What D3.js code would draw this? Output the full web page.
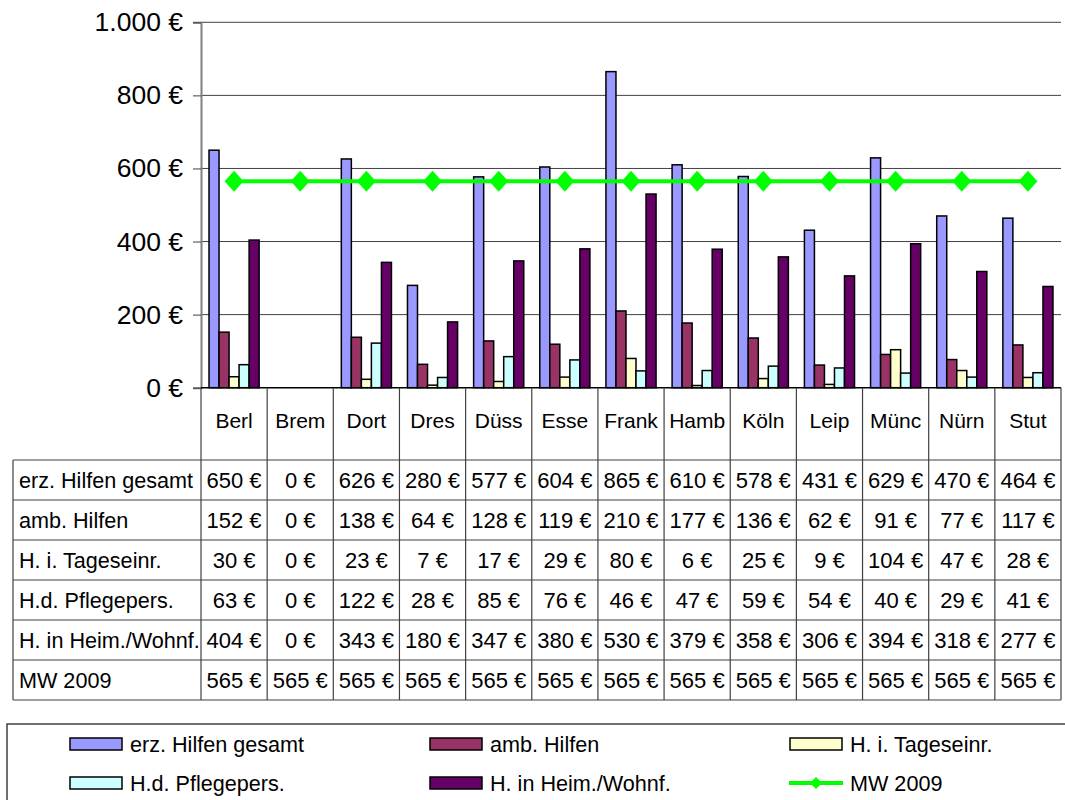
<!DOCTYPE html>
<html>
<head>
<meta charset="utf-8">
<script src="https://cdn.jsdelivr.net/npm/d3@7"></script>
<style>
  html, body { margin: 0; padding: 0; background: #fff; }
  svg { display: block; font-family: "Liberation Sans", Arial, sans-serif; }
</style>
</head>
<body>
<svg id="chart" width="1065" height="800"></svg>
<script>
const categories = ["Berl","Brem","Dort","Dres","Düss","Esse","Frank","Hamb","Köln","Leip","Münc","Nürn","Stut"];
const seriesNames = ["erz. Hilfen gesamt","amb. Hilfen","H. i. Tageseinr.","H.d. Pflegepers.","H. in Heim./Wohnf.","MW 2009"];
const erzHilfen   = [650, 0, 626, 280, 577, 604, 865, 610, 578, 431, 629, 470, 464];
const ambHilfen   = [152, 0, 138, 64, 128, 119, 210, 177, 136, 62, 91, 77, 117];
const tageseinr   = [30, 0, 23, 7, 17, 29, 80, 6, 25, 9, 104, 47, 28];
const pflegepers  = [63, 0, 122, 28, 85, 76, 46, 47, 59, 54, 40, 29, 41];
const heimWohnf   = [404, 0, 343, 180, 347, 380, 530, 379, 358, 306, 394, 318, 277];
const mw2009      = [565, 565, 565, 565, 565, 565, 565, 565, 565, 565, 565, 565, 565];
const yTicks = [0, 200, 400, 600, 800, 1000];
const barColors = ["#9999FF", "#993366", "#FFFFCC", "#CCFFFF", "#660066"];
const lineColor = "#00FF00";

const barSeries = [erzHilfen, ambHilfen, tageseinr, pflegepers, heimWohnf];
const allSeries = [erzHilfen, ambHilfen, tageseinr, pflegepers, heimWohnf, mw2009];

const svg = d3.select("#chart");
const plotLeft = 201, plotRight = 1061, plotTop = 22.3, plotBottom = 387.7;
const tableLeft = 13, headerBottom = 460, rowH = 40;

const de = d3.formatLocale({decimal: ",", thousands: ".", grouping: [3], currency: ["", " €"]});
const fmt = v => de.format(",")(v) + " €";

const x = d3.scaleBand().domain(categories).range([plotLeft, plotRight]).paddingInner(0).paddingOuter(0);
const xi = d3.scaleBand().domain(d3.range(barSeries.length)).range([0, x.bandwidth()]).paddingInner(0).paddingOuter(0.8);
const y = d3.scaleLinear().domain([0, 1000]).range([plotBottom, plotTop]);

// gridlines
svg.append("g").selectAll("line").data(yTicks.filter(t => t > 0)).join("line")
  .attr("x1", plotLeft).attr("x2", plotRight)
  .attr("y1", d => y(d)).attr("y2", d => y(d))
  .attr("stroke", "#404040").attr("stroke-width", 1);

// bars
const barData = [];
barSeries.forEach((s, si) => s.forEach((v, ci) => barData.push({si, ci, v})));
svg.append("g").selectAll("rect").data(barData.filter(d => d.v > 0)).join("rect")
  .attr("x", d => x(categories[d.ci]) + xi(d.si))
  .attr("width", xi.bandwidth())
  .attr("y", d => y(d.v))
  .attr("height", d => plotBottom - y(d.v))
  .attr("fill", d => barColors[d.si])
  .attr("stroke", "#000").attr("stroke-width", 1.5);

// y axis
const yAxis = svg.append("g").attr("transform", `translate(${plotLeft},0)`)
  .call(d3.axisLeft(y).tickValues(yTicks).tickFormat(fmt).tickSize(8).tickPadding(10));
yAxis.select(".domain").attr("stroke", "#808080").attr("stroke-width", 2);
yAxis.selectAll(".tick line").attr("stroke", "#404040");
yAxis.selectAll(".tick text").attr("font-size", 26.5).attr("fill", "#000")
  .attr("font-family", "Liberation Sans, Arial, sans-serif");

// baseline
svg.append("line").attr("x1", plotLeft).attr("x2", plotRight)
  .attr("y1", plotBottom).attr("y2", plotBottom).attr("stroke", "#000").attr("stroke-width", 1.5);

// MW line
const line = d3.line().x((d, i) => x(categories[i]) + x.bandwidth() / 2).y(d => y(d));
svg.append("path").datum(mw2009).attr("d", line)
  .attr("fill", "none").attr("stroke", lineColor).attr("stroke-width", 4);
const diamond = (cx, cy, w, h) => `M${cx},${cy - h}L${cx + w},${cy}L${cx},${cy + h}L${cx - w},${cy}Z`;
svg.append("g").selectAll("path").data(mw2009).join("path")
  .attr("d", (d, i) => diamond(x(categories[i]) + x.bandwidth() / 2, y(d), 9.5, 10.5))
  .attr("fill", lineColor);

// data table
const tg = svg.append("g");
const lineCol = "#404040";
const edges = categories.map(c => x(c)).concat([plotRight]);
tg.selectAll("line.v").data(edges).join("line")
  .attr("x1", d => d).attr("x2", d => d)
  .attr("y1", plotBottom).attr("y2", headerBottom + rowH * allSeries.length)
  .attr("stroke", lineCol).attr("stroke-width", 1.2);
tg.append("line").attr("x1", tableLeft).attr("x2", tableLeft)
  .attr("y1", headerBottom).attr("y2", headerBottom + rowH * allSeries.length)
  .attr("stroke", lineCol).attr("stroke-width", 1.2);
tg.selectAll("line.h").data(d3.range(allSeries.length + 1)).join("line")
  .attr("x1", tableLeft).attr("x2", plotRight)
  .attr("y1", i => headerBottom + i * rowH).attr("y2", i => headerBottom + i * rowH)
  .attr("stroke", lineCol).attr("stroke-width", 1.2);
tg.selectAll("text.cat").data(categories).join("text")
  .attr("x", d => x(d) + x.bandwidth() / 2).attr("y", 427.5)
  .attr("text-anchor", "middle").attr("font-size", 21).text(d => d);
tg.selectAll("text.row").data(seriesNames).join("text")
  .attr("x", 19).attr("y", (d, i) => headerBottom + i * rowH + 28)
  .attr("font-size", 21.6).text(d => d);
allSeries.forEach((s, si) => {
  tg.append("g").selectAll("text").data(s).join("text")
    .attr("x", (d, i) => x(categories[i]) + x.bandwidth() / 2)
    .attr("y", headerBottom + si * rowH + 28)
    .attr("text-anchor", "middle").attr("font-size", 22).text(d => fmt(d));
});

// legend
const lg = svg.append("g");
lg.append("rect").attr("x", 7).attr("y", 724).attr("width", 1070).attr("height", 100)
  .attr("fill", "none").attr("stroke", "#404040").attr("stroke-width", 1.5);
const legendItems = seriesNames.map((n, i) => ({n, i}));
const lx = i => 70 + (i % 3) * 360;
const ly = i => 738 + Math.floor(i / 3) * 39;
legendItems.forEach(d => {
  if (d.i < 5) {
    lg.append("rect").attr("x", lx(d.i)).attr("y", ly(d.i)).attr("width", 52).attr("height", 12)
      .attr("fill", barColors[d.i]).attr("stroke", "#000").attr("stroke-width", 1.5);
  } else {
    const cy = ly(d.i) + 6;
    lg.append("line").attr("x1", lx(d.i) - 1).attr("x2", lx(d.i) + 53).attr("y1", cy).attr("y2", cy)
      .attr("stroke", lineColor).attr("stroke-width", 4);
    lg.append("path").attr("d", diamond(lx(d.i) + 26, cy, 6, 6)).attr("fill", lineColor);
  }
  lg.append("text").attr("x", lx(d.i) + 60).attr("y", ly(d.i) + 13.5)
    .attr("font-size", 21.6).text(d.n);
});
</script>
</body>
</html>
